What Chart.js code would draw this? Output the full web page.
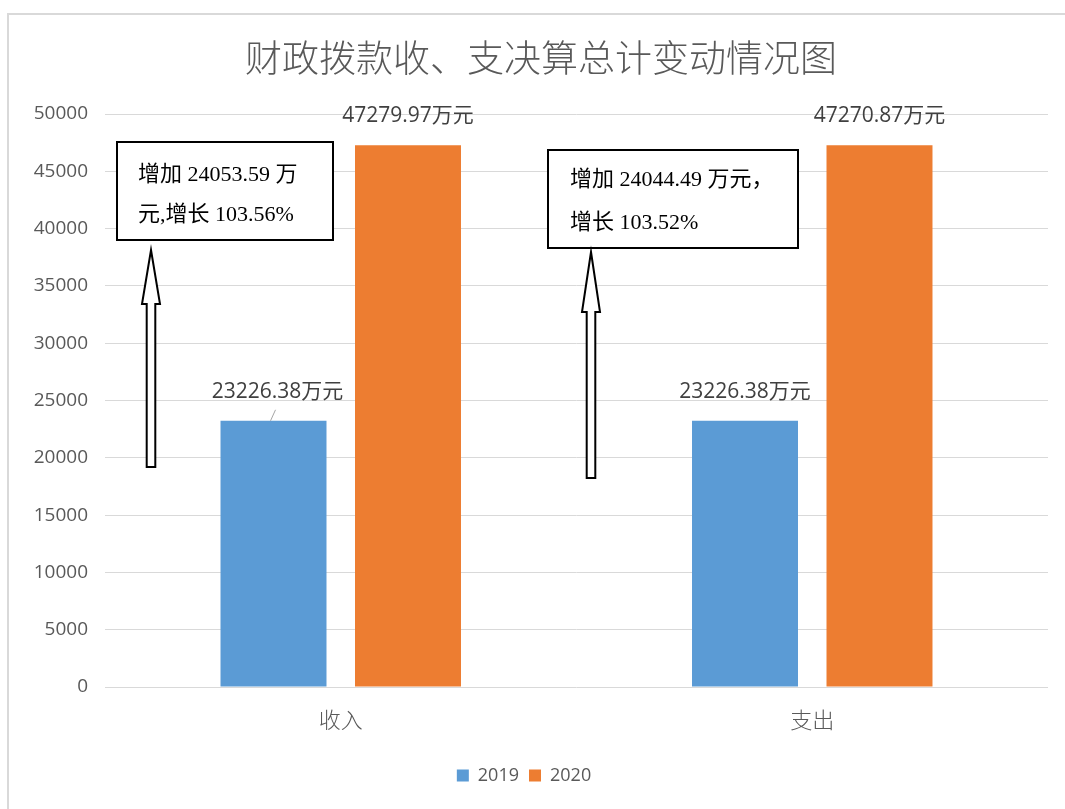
<!DOCTYPE html>
<html><head><meta charset="utf-8">
<script src="https://cdn.jsdelivr.net/npm/chart.js@4.4.1/dist/chart.umd.min.js"></script>
<style>html,body{margin:0;padding:0;background:#fff;overflow:hidden}canvas{display:block}</style>
</head><body>
<canvas id="c" width="1065" height="809"></canvas>
<script>
// ---- data ----
const categories = ['收入', '支出'];
const seriesNames = ['2019', '2020'];
const values2019 = [23226.38, 23226.38];
const values2020 = [47279.97, 47270.87];
const yTicks = [0, 5000, 10000, 15000, 20000, 25000, 30000, 35000, 40000, 45000, 50000];
const titleText = '财政拨款收、支决算总计变动情况图';
const unitText = '万元';
const noteLines = [
  ['增加 24053.59 万', '元,增长 103.56%'],
  ['增加 24044.49 万元，', '增长 103.52%']
];

// ---- styles / layout (not data) ----
const COLORS = ['#5B9BD5', '#ED7D31'];
const GRAY = '#595959';
const SANS = '"Open Sans", "Noto Sans CJK SC", sans-serif';
const CJK = '"Noto Sans CJK SC", "Open Sans", sans-serif';
const SERIF = '"Liberation Serif", "Noto Sans CJK SC", serif';
// annotation boxes and arrows, in canvas pixels
const NOTE_BOXES = [
  {x: 117, y: 142, w: 216, h: 98, tx: 138, lines: [175, 215]},
  {x: 548, y: 150, w: 250, h: 98, tx: 570, lines: [180, 223]}
];
const ARROWS = [
  {cx: 151, tip: 250, headBase: 304, headHalf: 9, shaftHalf: 4.3, bottom: 467},
  {cx: 591, tip: 252, headBase: 312, headHalf: 9, shaftHalf: 4.3, bottom: 478}
];

const decorPlugin = {
  id: 'decor',
  beforeDraw(chart) {
    const ctx = chart.ctx;
    ctx.save();
    ctx.fillStyle = '#fff';
    ctx.fillRect(0, 0, chart.width, chart.height);
    ctx.strokeStyle = '#d9d9d9';
    ctx.lineWidth = 2;
    ctx.beginPath();
    ctx.moveTo(8, chart.height);
    ctx.lineTo(8, 14);
    ctx.lineTo(chart.width, 14);
    ctx.stroke();
    // title
    ctx.fillStyle = GRAY;
    ctx.font = '300 37px ' + CJK;
    ctx.textAlign = 'center';
    ctx.textBaseline = 'middle';
    ctx.fillText(titleText, 541, 58);
    ctx.restore();
  },
  afterDatasetsDraw(chart) {
    const ctx = chart.ctx;
    ctx.save();
    // value labels
    ctx.font = '21px ' + SANS;
    ctx.fillStyle = '#404040';
    ctx.textAlign = 'center';
    ctx.textBaseline = 'middle';
    chart.data.datasets.forEach((ds, di) => {
      const meta = chart.getDatasetMeta(di);
      meta.data.forEach((bar, i) => {
        const v = ds.data[i];
        const dx = (di === 0 && i === 0) ? 4 : 0;
        ctx.fillText(v.toFixed(2) + unitText, bar.x + dx, bar.y - 29);
        if (di === 0 && i === 0) {
          ctx.strokeStyle = '#a6a6a6';
          ctx.lineWidth = 1;
          ctx.beginPath();
          ctx.moveTo(bar.x - 3, bar.y);
          ctx.lineTo(bar.x + 2, bar.y - 11);
          ctx.stroke();
        }
      });
    });
    // annotation boxes
    NOTE_BOXES.forEach((b, k) => {
      ctx.fillStyle = '#fff';
      ctx.fillRect(b.x, b.y, b.w, b.h);
      ctx.strokeStyle = '#000';
      ctx.lineWidth = 2;
      ctx.strokeRect(b.x, b.y, b.w, b.h);
      ctx.fillStyle = '#000';
      ctx.font = '22px ' + SERIF;
      ctx.textAlign = 'left';
      ctx.textBaseline = 'middle';
      noteLines[k].forEach((t, j) => ctx.fillText(t, b.tx, b.lines[j]));
    });
    // hollow arrows
    ARROWS.forEach(a => {
      ctx.beginPath();
      ctx.moveTo(a.cx, a.tip);
      ctx.lineTo(a.cx + a.headHalf, a.headBase);
      ctx.lineTo(a.cx + a.shaftHalf, a.headBase);
      ctx.lineTo(a.cx + a.shaftHalf, a.bottom);
      ctx.lineTo(a.cx - a.shaftHalf, a.bottom);
      ctx.lineTo(a.cx - a.shaftHalf, a.headBase);
      ctx.lineTo(a.cx - a.headHalf, a.headBase);
      ctx.closePath();
      ctx.fillStyle = '#fff';
      ctx.fill();
      ctx.strokeStyle = '#000';
      ctx.lineWidth = 2;
      ctx.stroke();
    });
    ctx.restore();
  }
};

new Chart(document.getElementById('c'), {
  type: 'bar',
  data: {
    labels: categories,
    datasets: [
      {label: seriesNames[0], data: values2019, backgroundColor: COLORS[0]},
      {label: seriesNames[1], data: values2020, backgroundColor: COLORS[1]}
    ]
  },
  options: {
    responsive: false,
    animation: false,
    devicePixelRatio: 1,
    categoryPercentage: 0.5705,
    barPercentage: 0.788,
    layout: {padding: {left: 0, right: 17, top: 114, bottom: 14.5}},
    plugins: {
      title: {display: false},
      tooltip: {enabled: false},
      legend: {
        position: 'bottom',
        labels: {
          boxWidth: 12, boxHeight: 12, padding: 10,
          color: GRAY,
          font: {family: SANS, size: 18}
        }
      }
    },
    scales: {
      x: {
        grid: {display: false},
        border: {display: false},
        ticks: {color: GRAY, font: {family: CJK, size: 22, weight: '300'}, padding: 11},
        afterFit(s) { s.height = 69.5; }
      },
      y: {
        min: 0, max: 50000,
        afterBuildTicks(s) { s.ticks = yTicks.map(v => ({value: v})); },
        grid: {color: '#d9d9d9', drawTicks: false, lineWidth: 1},
        border: {display: false},
        ticks: {color: GRAY, font: {family: SANS, size: 19}, padding: 17, callback: v => String(v)},
        afterFit(s) { s.width = 105; }
      }
    }
  },
  plugins: [decorPlugin]
});
</script>
</body></html>
